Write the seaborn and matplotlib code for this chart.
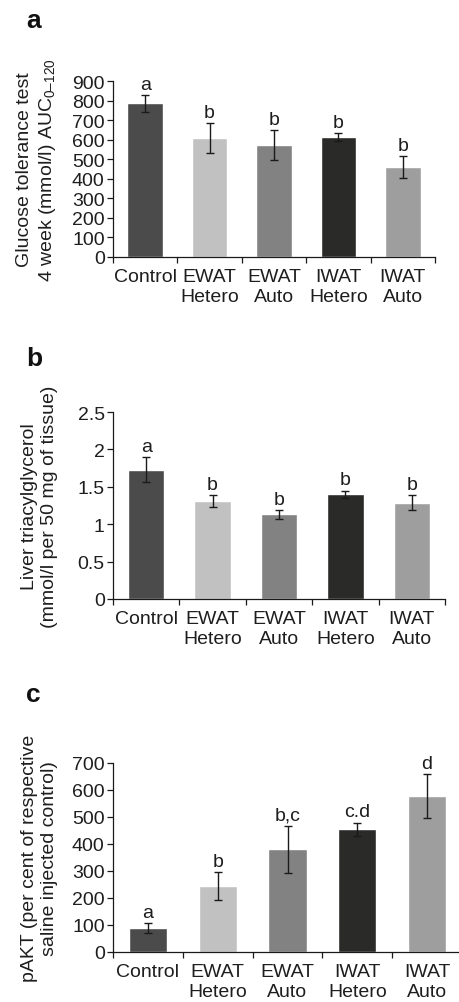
import numpy as np
import matplotlib
matplotlib.use("Agg")
import matplotlib.pyplot as plt
import matplotlib.transforms as mtransforms
import seaborn as sns

# ---- data ----
categories = ["Control", "EWAT\nHetero", "EWAT\nAuto", "IWAT\nHetero", "IWAT\nAuto"]
bar_colors = ["#4b4b4b", "#c0c1c0", "#828282", "#2a2a28", "#9d9e9d"]

gtt_values = [786, 608, 572, 613, 460]
gtt_errors = [43, 76, 77, 19, 54]
gtt_letters = ["a", "b", "b", "b", "b"]
gtt_yticks = [0, 100, 200, 300, 400, 500, 600, 700, 800, 900]

tag_values = [1.73, 1.31, 1.13, 1.40, 1.29]
tag_errors = [0.17, 0.083, 0.056, 0.05, 0.10]
tag_letters = ["a", "b", "b", "b", "b"]
tag_yticks = [0, 0.5, 1, 1.5, 2, 2.5]
tag_yticklabels = ["0", "0.5", "1", "1.5", "2", "2.5"]

pakt_values = [89, 244, 381, 455, 578]
pakt_errors = [17, 52, 87, 24, 80]
pakt_letters = ["a", "b", "b,c", "c.d", "d"]
pakt_yticks = [0, 100, 200, 300, 400, 500, 600, 700]

sns.set_theme(style="white")
plt.rcParams["font.family"] = ["Liberation Sans", "DejaVu Sans"]
plt.rcParams["mathtext.fontset"] = "custom"
plt.rcParams["mathtext.rm"] = "Liberation Sans"
plt.rcParams["mathtext.it"] = "Liberation Sans"

W, H = 459, 1003
fig = plt.figure(figsize=(W / 100, H / 100), dpi=100)

FS = 14
TXT = "#1e1e1e"


def px_rect(left, right, top, bottom):
    return [left / W, 1 - bottom / H, (right - left) / W, (bottom - top) / H]


panels = [
    dict(rect=px_rect(113, 435, 82, 258), vals=gtt_values, errs=gtt_errors,
         letters=gtt_letters, yticks=gtt_yticks, yticklabels=[str(t) for t in gtt_yticks],
         ylim=(0, 900), ylabel="Glucose tolerance test\n4 week (mmol/l) AUC$_{0\u2013120}$",
         tag="a", tag_y=28),
    dict(rect=px_rect(113, 445, 413, 600), vals=tag_values, errs=tag_errors,
         letters=tag_letters, yticks=tag_yticks, yticklabels=tag_yticklabels,
         ylim=(0, 2.5), ylabel="Liver triacylglycerol\n(mmol/l per 50 mg of tissue)",
         tag="b", tag_y=366),
    dict(rect=px_rect(113, 462, 764, 953), vals=pakt_values, errs=pakt_errors,
         letters=pakt_letters, yticks=pakt_yticks, yticklabels=[str(t) for t in pakt_yticks],
         ylim=(0, 700), ylabel="pAKT (per cent of respective\nsaline injected control)",
         tag="c", tag_y=702),
]

for p in panels:
    ax = fig.add_axes(p["rect"])
    sns.barplot(x=categories, y=p["vals"], hue=categories, palette=bar_colors,
                width=0.55, errorbar=None, legend=False, ax=ax, saturation=1)
    xs = np.arange(len(categories))
    ax.errorbar(xs, p["vals"], yerr=p["errs"], fmt="none", ecolor="#1a1a1a",
                elinewidth=1.0, capsize=2.6, capthick=1.0, zorder=5)
    for x, v, e, lab in zip(xs, p["vals"], p["errs"], p["letters"]):
        ax.annotate(lab, (x, v + e), xytext=(0, 4.5), textcoords="offset points",
                    ha="center", va="baseline", fontsize=FS, color=TXT)
    ax.set_xlim(-0.5, len(categories) - 0.5)
    ax.set_ylim(*p["ylim"])
    ax.set_yticks(p["yticks"])
    ax.set_yticklabels(p["yticklabels"])
    ax.set_xticks(np.arange(-0.5, len(categories), 1), minor=True)
    ax.tick_params(axis="x", which="major", length=0, pad=8, labelsize=FS, labelcolor=TXT)
    ax.tick_params(axis="x", which="minor", length=4, width=0.9, direction="out",
                   color="#1a1a1a", bottom=True)
    ax.tick_params(axis="y", which="major", length=4, width=0.9, direction="out",
                   color="#1a1a1a", left=True, pad=2, labelsize=FS, labelcolor=TXT)
    for lab in ax.get_xticklabels():
        lab.set_linespacing(1.2)
    sns.despine(ax=ax)
    for s in ["left", "bottom"]:
        ax.spines[s].set_color("#1a1a1a")
        ax.spines[s].set_linewidth(0.9)
    ax.set_ylabel(p["ylabel"], fontsize=FS, color=TXT, linespacing=1.25)
    trans = mtransforms.blended_transform_factory(fig.transFigure, ax.transAxes)
    ax.yaxis.set_label_coords(58 / W, 0.5, transform=trans)
    ax.set_xlabel("")
    fig.text(26 / W, 1 - p["tag_y"] / H, p["tag"], fontsize=19, fontweight="bold",
             ha="left", va="baseline", color="#111111")

fig.savefig("out.png", dpi=100)
